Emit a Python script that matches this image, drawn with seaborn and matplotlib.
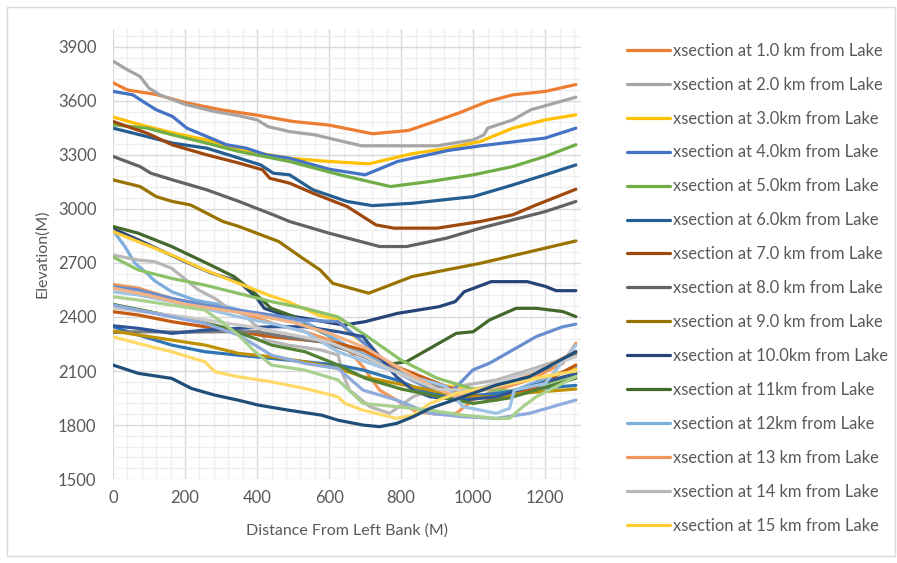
import matplotlib
matplotlib.use("Agg")
import matplotlib.pyplot as plt
import seaborn as sns
from matplotlib.ticker import MultipleLocator
from matplotlib.patches import Rectangle

# ---- cross-section profiles: distance from left bank (m) and bed elevation (m) ----
dist_01 = [0, 40, 120, 200, 300, 400, 500, 600, 720, 820, 880, 960, 1040, 1110, 1200, 1285]
elev_01 = [3700, 3660, 3635, 3590, 3550, 3520, 3485, 3465, 3417, 3435, 3476, 3532, 3596, 3633, 3652, 3690]

dist_02 = [0, 40, 75, 100, 130, 200, 280, 350, 400, 430, 490, 560, 690, 900, 1000, 1030, 1040, 1110, 1160, 1285]
elev_02 = [3820, 3772, 3735, 3670, 3633, 3580, 3541, 3517, 3494, 3457, 3429, 3411, 3350, 3350, 3383, 3411, 3448, 3494, 3550, 3620]

dist_03 = [0, 75, 170, 260, 350, 490, 600, 710, 830, 930, 1020, 1110, 1200, 1285]
elev_03 = [3510, 3467, 3420, 3383, 3328, 3281, 3263, 3250, 3306, 3337, 3374, 3448, 3494, 3522]

dist_04 = [0, 55, 90, 120, 165, 205, 260, 315, 370, 425, 490, 600, 700, 790, 930, 1020, 1200, 1285]
elev_04 = [3652, 3633, 3587, 3550, 3513, 3448, 3402, 3356, 3337, 3300, 3281, 3220, 3189, 3263, 3324, 3350, 3393, 3448]

dist_05 = [0, 95, 165, 260, 350, 490, 630, 770, 880, 1000, 1110, 1200, 1285]
elev_05 = [3467, 3448, 3411, 3365, 3318, 3263, 3189, 3124, 3152, 3189, 3235, 3291, 3356]

dist_06 = [0, 75, 165, 260, 335, 410, 445, 490, 555, 650, 720, 830, 1000, 1110, 1200, 1285]
elev_06 = [3448, 3411, 3365, 3337, 3291, 3244, 3198, 3189, 3106, 3041, 3018, 3031, 3068, 3133, 3189, 3244]

dist_07 = [0, 40, 95, 165, 260, 350, 415, 435, 490, 555, 650, 730, 780, 900, 1020, 1110, 1175, 1285]
elev_07 = [3485, 3457, 3420, 3355, 3300, 3254, 3217, 3170, 3143, 3087, 3013, 2911, 2893, 2893, 2930, 2967, 3022, 3109]

dist_08 = [0, 75, 105, 165, 260, 350, 445, 490, 600, 740, 815, 925, 1020, 1110, 1200, 1285]
elev_08 = [3291, 3235, 3198, 3161, 3106, 3041, 2967, 2930, 2865, 2791, 2791, 2837, 2893, 2939, 2985, 3041]

dist_09 = [0, 75, 120, 165, 215, 260, 305, 350, 460, 520, 575, 610, 710, 830, 1020, 1285]
elev_09 = [3161, 3124, 3068, 3041, 3022, 2976, 2930, 2902, 2819, 2735, 2661, 2587, 2532, 2624, 2698, 2822]

dist_10 = [0, 70, 200, 275, 350, 400, 420, 475, 535, 640, 700, 790, 905, 950, 975, 1050, 1150, 1200, 1230, 1285]
elev_10 = [2890, 2828, 2707, 2642, 2596, 2503, 2448, 2411, 2392, 2355, 2374, 2420, 2457, 2485, 2540, 2596, 2596, 2570, 2546, 2546]

dist_11 = [0, 70, 163, 271, 336, 383, 439, 504, 550, 596, 640, 700, 760, 815, 880, 953, 1000, 1045, 1119, 1175, 1249, 1285]
elev_11 = [2902, 2865, 2791, 2688, 2624, 2550, 2448, 2401, 2346, 2300, 2240, 2180, 2135, 2152, 2226, 2309, 2318, 2383, 2448, 2448, 2430, 2402]

dist_12 = [0, 33, 61, 89, 116, 163, 227, 301, 366, 422, 533, 597, 650, 700, 800, 900, 1000, 1100, 1200, 1285]
elev_12 = [2880, 2791, 2698, 2652, 2600, 2540, 2494, 2466, 2429, 2401, 2374, 2300, 2240, 2190, 2110, 2020, 1950, 1980, 2060, 2120]

dist_13 = [0, 70, 163, 255, 348, 403, 459, 533, 588, 644, 694, 740, 787, 842, 900, 953, 999, 1064, 1156, 1249, 1285]
elev_13 = [2580, 2560, 2503, 2466, 2429, 2392, 2355, 2318, 2281, 2240, 2124, 1994, 1939, 1874, 1860, 1865, 1939, 1994, 2050, 2143, 2254]

dist_14 = [0, 70, 116, 163, 209, 237, 283, 320, 366, 403, 422, 486, 579, 625, 639, 657, 713, 768, 833, 880, 953, 1064, 1156, 1285]
elev_14 = [2744, 2716, 2707, 2670, 2596, 2550, 2503, 2448, 2411, 2337, 2272, 2244, 2216, 2188, 2077, 1994, 1902, 1865, 1957, 1994, 2013, 2050, 2106, 2190]

dist_15 = [0, 80, 163, 255, 348, 431, 486, 570, 625, 657, 713, 759, 824, 907, 1000, 1100, 1200, 1285]
elev_15 = [2874, 2810, 2744, 2661, 2587, 2522, 2485, 2411, 2383, 2309, 2235, 2143, 2068, 2022, 2000, 2030, 2070, 2110]

dist_16 = [0, 70, 163, 255, 348, 440, 533, 625, 700, 800, 880, 950, 999, 1045, 1110, 1175, 1249, 1285]
elev_16 = [2568, 2550, 2503, 2466, 2438, 2411, 2383, 2374, 2250, 2080, 2000, 2005, 2106, 2143, 2217, 2291, 2346, 2360]

dist_17 = [0, 70, 163, 255, 348, 440, 533, 625, 700, 800, 900, 1000, 1100, 1200, 1285]
elev_17 = [2733, 2661, 2614, 2577, 2531, 2485, 2448, 2400, 2300, 2160, 2060, 2000, 1990, 2030, 2080]

dist_18 = [0, 70, 163, 255, 348, 440, 533, 625, 694, 787, 880, 972, 1064, 1156, 1285]
elev_18 = [2346, 2300, 2244, 2207, 2188, 2170, 2151, 2133, 2106, 2050, 1976, 1957, 1976, 2000, 2020]

dist_19 = [0, 70, 163, 255, 348, 440, 533, 625, 694, 787, 880, 972, 1064, 1156, 1285]
elev_19 = [2429, 2411, 2374, 2346, 2318, 2290, 2272, 2253, 2217, 2124, 2050, 1976, 1939, 1994, 2133]

dist_20 = [0, 70, 200, 300, 400, 480, 579, 648, 740, 833, 898, 990, 1100, 1200, 1285]
elev_20 = [2314, 2318, 2316, 2318, 2318, 2290, 2262, 2217, 2143, 2068, 2013, 1976, 2030, 2110, 2200]

dist_21 = [0, 70, 163, 255, 348, 440, 533, 625, 694, 787, 880, 972, 1064, 1156, 1285]
elev_21 = [2322, 2300, 2272, 2244, 2198, 2179, 2151, 2114, 2068, 2031, 1994, 1957, 1957, 1980, 2000]

dist_22 = [0, 70, 163, 255, 348, 440, 533, 625, 694, 740, 787, 833, 880, 972, 1064, 1156, 1285]
elev_22 = [2351, 2337, 2309, 2327, 2337, 2346, 2346, 2318, 2291, 2180, 2068, 1994, 1957, 1939, 1957, 2013, 2087]

dist_23 = [0, 100, 237, 301, 394, 440, 533, 625, 700, 800, 900, 1000, 1100, 1200, 1285]
elev_23 = [2470, 2430, 2374, 2346, 2281, 2244, 2207, 2133, 2060, 2000, 1960, 1920, 1950, 2010, 2060]

dist_24 = [0, 70, 163, 255, 348, 440, 533, 625, 740, 833, 926, 972, 1064, 1101, 1114, 1200, 1285]
elev_24 = [2540, 2522, 2485, 2448, 2401, 2364, 2318, 2207, 2124, 2068, 2013, 1902, 1865, 1893, 1994, 2031, 2244]

dist_25 = [0, 100, 200, 300, 400, 500, 600, 700, 800, 900, 950, 1000, 1100, 1200, 1285]
elev_25 = [2560, 2520, 2470, 2440, 2410, 2370, 2310, 2230, 2110, 2000, 1960, 1980, 2030, 2120, 2210]

dist_26 = [0, 200, 400, 600, 700, 800, 900, 1000, 1100, 1200, 1285]
elev_26 = [2450, 2400, 2340, 2260, 2180, 2080, 2000, 1990, 2060, 2120, 2180]

dist_27 = [0, 70, 163, 255, 283, 348, 440, 533, 625, 644, 694, 787, 833, 880, 953, 1100, 1200, 1285]
elev_27 = [2290, 2253, 2207, 2151, 2096, 2068, 2040, 2003, 1957, 1920, 1883, 1837, 1855, 1920, 1976, 2030, 2070, 2100]

dist_28 = [0, 70, 163, 255, 348, 440, 533, 625, 694, 787, 880, 972, 1064, 1156, 1285]
elev_28 = [2466, 2438, 2401, 2364, 2300, 2188, 2142, 2114, 1994, 1939, 1865, 1846, 1837, 1865, 1939]

dist_29 = [0, 70, 163, 255, 301, 348, 394, 440, 533, 625, 694, 787, 880, 972, 1064, 1101, 1138, 1175, 1285]
elev_29 = [2512, 2494, 2466, 2438, 2374, 2300, 2207, 2133, 2105, 2050, 1920, 1902, 1883, 1855, 1837, 1837, 1902, 1957, 2069]

dist_30 = [0, 70, 163, 218, 283, 348, 403, 486, 579, 625, 694, 740, 787, 833, 880, 972, 1064, 1156, 1285]
elev_30 = [2133, 2087, 2059, 2003, 1966, 1938, 1911, 1883, 1855, 1827, 1800, 1791, 1809, 1846, 1893, 1957, 2022, 2068, 2207]

series_names = [
    "xsection at 1.0 km from Lake", "xsection at 2.0 km from Lake",
    "xsection at 3.0km from Lake", "xsection at 4.0km from Lake",
    "xsection at 5.0km from Lake", "xsection at 6.0km from Lake",
    "xsection at 7.0 km from Lake", "xsection at 8.0 km from Lake",
    "xsection at 9.0 km from Lake", "xsection at 10.0km from Lake",
    "xsection at 11km from Lake", "xsection at 12km from Lake",
    "xsection at 13 km from Lake", "xsection at 14 km from Lake",
    "xsection at 15 km from Lake",
] + [f"xsection at {k} km from Lake" for k in range(16, 31)]

series_colors = [
    "#ED7D31", "#A5A5A5", "#FFC000", "#4472C4", "#70AD47", "#255E91",
    "#9E480E", "#636363", "#997300", "#264478", "#43682B", "#7CAFDD",
    "#F1975A", "#B7B7B7", "#FFCD33", "#698ED0", "#8CC168", "#2E75B6",
    "#C55A11", "#7B7B7B", "#BF9000", "#2F5597", "#548235", "#9DC3E6",
    "#F4B183", "#C9C9C9", "#FFD966", "#8FAADC", "#A9D18E", "#1F4E79",
]

profiles = [
    (dist_01, elev_01), (dist_02, elev_02), (dist_03, elev_03), (dist_04, elev_04),
    (dist_05, elev_05), (dist_06, elev_06), (dist_07, elev_07), (dist_08, elev_08),
    (dist_09, elev_09), (dist_10, elev_10), (dist_11, elev_11), (dist_12, elev_12),
    (dist_13, elev_13), (dist_14, elev_14), (dist_15, elev_15), (dist_16, elev_16),
    (dist_17, elev_17), (dist_18, elev_18), (dist_19, elev_19), (dist_20, elev_20),
    (dist_21, elev_21), (dist_22, elev_22), (dist_23, elev_23), (dist_24, elev_24),
    (dist_25, elev_25), (dist_26, elev_26), (dist_27, elev_27), (dist_28, elev_28),
    (dist_29, elev_29), (dist_30, elev_30),
]

LEGEND_COUNT = 15

sns.set_theme(style="white")
plt.rcParams["font.family"] = ["Lato", "DejaVu Sans"]

fig = plt.figure(figsize=(8.97, 5.63), dpi=100)
ax = fig.add_axes([0.126, 0.149, 0.522, 0.800])

handles = []
for i, ((d, e), col) in enumerate(zip(profiles, series_colors)):
    sns.lineplot(x=d, y=e, color=col, linewidth=2.3, ax=ax, sort=False,
                 estimator=None, legend=False, zorder=10 + i)
    handles.append(ax.lines[-1])

ax.set_xlim(0, 1300)
ax.set_ylim(1500, 4000)
ax.xaxis.set_major_locator(MultipleLocator(200))
ax.xaxis.set_minor_locator(MultipleLocator(40))
ax.yaxis.set_major_locator(MultipleLocator(300))
ax.yaxis.set_minor_locator(MultipleLocator(60))
ax.grid(which="major", color="#D9D9D9", linewidth=1.0, zorder=0)
ax.grid(which="minor", color="#EFEFEF", linewidth=0.9, zorder=0)
ax.set_axisbelow(True)
for s in ax.spines.values():
    s.set_visible(False)
ax.tick_params(axis="y", which="both", length=0, labelsize=12, colors="#595959", pad=12)
ax.tick_params(axis="x", which="both", length=0, labelsize=12, colors="#595959", pad=8)

ax.set_xlabel("Distance From Left Bank (M)", fontsize=11.5, color="#595959", labelpad=12)
ax.set_ylabel("Elevation(M)", fontsize=11.5, color="#595959", labelpad=6)

fig.legend(handles[:LEGEND_COUNT], series_names[:LEGEND_COUNT],
           loc="upper left", bbox_to_anchor=(0.692, 0.936), frameon=False,
           fontsize=11.9, labelcolor="#595959", handlelength=2.6, handletextpad=0.15,
           labelspacing=1.085, borderaxespad=0)

fig.patches.append(Rectangle((0.008, 0.012), 0.990, 0.975, transform=fig.transFigure,
                             fill=False, edgecolor="#D9D9D9", linewidth=1.0))

fig.savefig("out.png", dpi=100)
